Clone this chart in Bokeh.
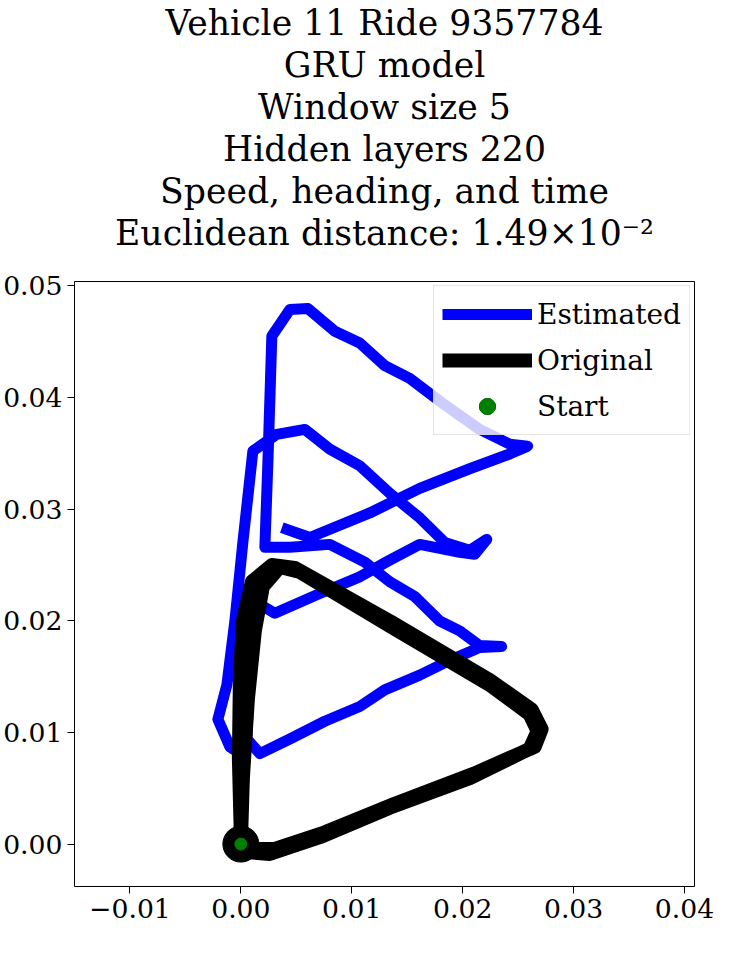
from bokeh.plotting import figure
from bokeh.models import Title, Legend, LegendItem, FixedTicker, Range1d
from bokeh.embed import file_html
from bokeh.resources import INLINE

# pixel traces, converted to data units below
est_px = [(252, 866), (253, 820), (255, 778), (240, 768), (228, 740), (237, 705), (245, 640),
          (253, 560), (263, 467), (287, 450), (315, 445), (340, 465), (370, 482), (400, 510),
          (430, 535), (455, 560), (480, 568), (497, 557), (485, 572), (470, 570), (430, 562),
          (400, 578), (370, 595), (330, 612), (285, 632), (265, 620), (260, 680), (257, 760),
          (270, 775), (300, 760), (335, 742), (370, 727), (395, 710), (430, 695), (460, 680),
          (490, 667), (512, 666), (490, 665), (470, 650), (450, 640), (425, 615), (400, 600),
          (375, 580), (340, 562), (300, 565), (275, 565), (278, 480), (282, 350), (300, 323),
          (318, 322), (345, 345), (370, 357), (395, 380), (420, 393), (455, 420), (490, 445),
          (520, 460), (538, 462), (520, 470), (480, 485), (430, 505), (380, 530), (320, 555),
          (292, 545)]
orig_px = [(251, 867), (253, 800), (258, 720), (265, 650), (273, 605), (290, 585), (310, 590),
           (400, 645), (500, 705), (540, 735), (548, 752), (540, 770), (480, 800), (400, 830),
           (330, 860), (280, 877), (255, 875), (251, 860), (249, 780), (250, 700), (253, 640),
           (262, 600), (282, 583), (305, 586), (400, 640), (500, 700), (542, 730), (552, 750),
           (545, 768), (485, 795), (405, 826), (335, 855), (285, 872), (258, 872), (251, 867)]

est_x = [(px - 251) / 11100 for px, _ in est_px]
est_y = [(867 - py) / 11360 for _, py in est_px]
orig_x = [(px - 251) / 11100 for px, _ in orig_px]
orig_y = [(867 - py) / 11360 for _, py in orig_px]
start_x = [0.0]
start_y = [0.0]

title_lines = ["Vehicle 11 Ride 9357784", "GRU model", "Window size 5", "Hidden layers 220",
               "Speed, heading, and time", "Euclidean distance: 1.49\u00d710\u207b\u00b2"]
x_ticks = [-0.01, 0.0, 0.01, 0.02, 0.03, 0.04]
y_ticks = [0.0, 0.01, 0.02, 0.03, 0.04, 0.05]

FONT = "DejaVu Serif"

p = figure(frame_width=620, frame_height=605, output_backend="svg", toolbar_location=None,
           x_range=Range1d(-0.015, 0.0409), y_range=Range1d(-0.0038, 0.0504),
           min_border_left=6, min_border_right=28, min_border_bottom=4, min_border_top=4)
p.title = None
p.add_layout(Title(text=" ", text_font_size="12pt"), "above")
for line in reversed(title_lines):
    p.add_layout(Title(text=line, align="center", text_font=FONT, text_font_size="26pt",
                       text_font_style="normal", text_color="black", standoff=0), "above")

p.grid.grid_line_color = None
p.outline_line_color = "black"
for ax in (p.xaxis, p.yaxis):
    ax.major_label_text_font = FONT
    ax.major_label_text_font_size = "20pt"
    ax.major_label_text_color = "black"
    ax.major_tick_line_color = "black"
    ax.minor_tick_line_color = None
    ax.major_tick_out = 7
    ax.major_tick_in = 0
    ax.axis_line_color = None
p.xaxis.ticker = FixedTicker(ticks=x_ticks)
p.yaxis.ticker = FixedTicker(ticks=y_ticks)
p.xaxis.major_label_overrides = {t: f"{t:.2f}".replace("-", "\u2212") for t in x_ticks}
p.yaxis.major_label_overrides = {t: f"{t:.2f}" for t in y_ticks}

est = p.line(est_x, est_y, line_color="blue", line_width=11, line_join="round")
orig = p.line(orig_x, orig_y, line_color="black", line_width=14, line_join="round")
dummy = p.line([], [], line_color="black", line_width=12)
s1 = p.scatter(start_x, start_y, size=36, fill_color="black", line_color="black")
s2 = p.scatter(start_x, start_y, size=12, fill_color="green", line_color="green")

legend = Legend(items=[LegendItem(label="Estimated", renderers=[est]),
                       LegendItem(label="Original", renderers=[orig]),
                       LegendItem(label="Start", renderers=[dummy, s1, s2])],
                location="top_right", label_text_font=FONT, label_text_font_size="21pt",
                label_text_color="black",
                glyph_width=90, glyph_height=40, spacing=6, padding=8, margin=4,
                border_line_color="#cccccc", background_fill_alpha=0.8)
p.add_layout(legend)

open("out.html", "w").write(file_html(p, INLINE))
